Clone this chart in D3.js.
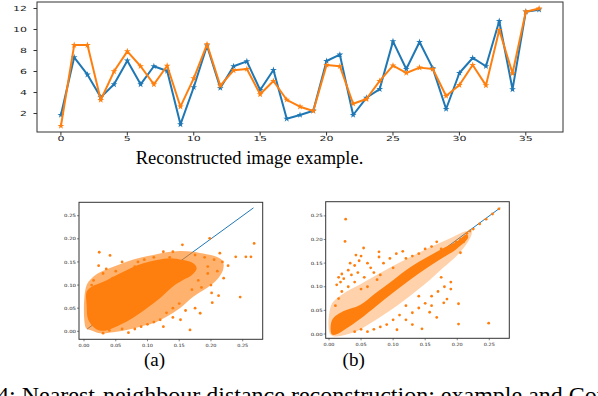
<!DOCTYPE html>
<html>
<head>
<meta charset="utf-8">
<script src="https://cdn.jsdelivr.net/npm/d3@7"></script>
<style>
  body { margin: 0; background: #fff; }
  svg { display: block; }
</style>
</head>
<body>
<svg id="fig"></svg>
<script>
// ---- top chart: one reconstructed example, 37 steps
const steps = d3.range(37);
const original = [1.86, 7.35, 5.7, 3.54, 4.78, 7.03, 4.78, 6.5, 6.05, 0.97, 4.5, 8.46, 4.43, 6.5, 6.97, 4.24, 6.14, 1.5, 1.86, 2.27,
                  7.0, 7.6, 1.86, 3.5, 4.33, 8.87, 6.24, 8.81, 6.3, 2.43, 5.86, 7.29, 6.5, 10.81, 4.3, 11.7, 11.89];
const reconstructed = [0.81, 8.52, 8.52, 3.29, 6.02, 7.92, 6.5, 4.78, 6.55, 2.65, 5.35, 8.59, 4.65, 6.11, 6.24, 3.83, 5.1, 3.31, 2.65, 2.24,
                       6.62, 6.5, 2.93, 3.38, 5.1, 6.56, 5.86, 6.37, 6.24, 3.67, 4.71, 6.62, 4.68, 9.95, 5.83, 11.7, 12.0];
const topXTicks = [0, 5, 10, 15, 20, 25, 30, 35];
const topYTicks = [2, 4, 6, 8, 10, 12];

// ---- scatter panels: true vs reconstructed nn distance
const distTicks = [0.00, 0.05, 0.10, 0.15, 0.20, 0.25];
const diagonal = [0.005, 0.267];

// (a) dense core outline, sparser halo outline, and single points outside
const coreA = [[0.0042, 0.0857], [0.0121, 0.0965], [0.0304, 0.107], [0.0515, 0.122], [0.0725, 0.136], [0.0934, 0.147],
  [0.1145, 0.154], [0.1355, 0.158], [0.156, 0.154], [0.172, 0.147], [0.1775, 0.136], [0.170, 0.122], [0.156, 0.111],
  [0.141, 0.098], [0.120, 0.072], [0.099, 0.050], [0.078, 0.030], [0.057, 0.014], [0.035, 0.002],
  [0.020, 0.004], [0.0068, 0.0244], [0.0042, 0.0569]];
const haloA = [[0.0032, 0.0965], [0.0032, 0.0065], [0.0095, 0.0028], [0.0252, -0.0043], [0.0462, -0.0022], [0.0672, 0.0028],
  [0.0882, 0.010], [0.109, 0.0173], [0.130, 0.0316], [0.151, 0.0497], [0.172, 0.0748], [0.193, 0.093], [0.209, 0.111],
  [0.219, 0.1326], [0.219, 0.1505], [0.209, 0.161], [0.193, 0.1665], [0.172, 0.172], [0.151, 0.1737], [0.130, 0.171],
  [0.109, 0.165], [0.0882, 0.159], [0.0672, 0.1505], [0.0462, 0.1397], [0.0252, 0.1276], [0.0121, 0.1146]];
const pointsA = [[0.024, 0.171], [0.041, 0.164], [0.268, 0.190], [0.198, 0.201], [0.239, 0.161], [0.255, 0.161], [0.263, 0.161],
  [0.246, 0.074], [0.201, 0.083], [0.212, 0.077], [0.202, 0.062], [0.183, 0.039], [0.167, 0.003], [0.155, 0.187],
  [0.023, 0.142], [0.125, 0.010], [0.152, 0.025], [0.214, 0.169], [0.227, 0.142], [0.218, 0.150], [0.205, 0.155],
  [0.190, 0.160], [0.175, 0.165], [0.140, 0.172], [0.125, 0.172], [0.110, 0.160], [0.095, 0.155], [0.060, 0.150],
  [0.035, 0.135], [0.030, 0.125], [0.015, 0.110], [0.012, 0.100], [0.008, 0.080], [0.070, -0.003], [0.060, 0.005],
  [0.030, -0.004], [0.040, 0.002], [0.100, 0.015], [0.110, 0.020], [0.140, 0.030], [0.160, 0.045], [0.175, 0.050],
  [0.130, 0.040], [0.180, 0.110], [0.195, 0.125], [0.210, 0.130], [0.220, 0.115], [0.200, 0.100], [0.185, 0.095],
  [0.170, 0.090], [0.195, 0.140], [0.165, 0.145], [0.150, 0.150], [0.135, 0.160], [0.085, 0.150], [0.080, 0.140],
  [0.050, 0.130], [0.045, 0.115], [0.150, 0.060], [0.140, 0.050], [0.120, 0.025], [0.090, 0.010], [0.080, 0.005]];

// (b)
const coreB = [[0.0042, -0.0007], [0.005, 0.030], [0.022, 0.048], [0.0484, 0.0615], [0.0744, 0.0884], [0.1003, 0.1144],
  [0.126, 0.1405], [0.152, 0.1617], [0.178, 0.1816], [0.199, 0.1956], [0.215, 0.211], [0.217, 0.204], [0.199, 0.180],
  [0.178, 0.1617], [0.152, 0.139], [0.126, 0.1144], [0.1003, 0.088], [0.0744, 0.060], [0.0484, 0.0318],
  [0.0276, 0.012], [0.012, -0.0007]];
const haloB = [[0.0031, -0.002], [0.0031, 0.060], [0.012, 0.075], [0.0276, 0.090], [0.0484, 0.105], [0.0744, 0.125],
  [0.1056, 0.148], [0.137, 0.170], [0.168, 0.190], [0.194, 0.206], [0.215, 0.218], [0.2226, 0.2155], [0.217, 0.1956],
  [0.199, 0.165], [0.178, 0.140], [0.1576, 0.115], [0.137, 0.092], [0.116, 0.070], [0.090, 0.045], [0.064, 0.022],
  [0.038, 0.003]];
const pointsB = [[0.026, 0.243], [0.025, 0.196], [0.054, 0.182], [0.078, 0.174], [0.078, 0.163], [0.050, 0.165], [0.047, 0.155],
  [0.060, 0.150], [0.040, 0.145], [0.030, 0.135], [0.020, 0.127], [0.015, 0.120], [0.035, 0.125], [0.045, 0.130],
  [0.065, 0.140], [0.085, 0.150], [0.095, 0.160], [0.105, 0.170], [0.115, 0.175], [0.120, 0.160], [0.130, 0.165],
  [0.140, 0.170], [0.150, 0.180], [0.160, 0.185], [0.168, 0.195], [0.175, 0.180], [0.190, 0.185], [0.205, 0.172],
  [0.210, 0.195], [0.012, 0.104], [0.023, 0.117], [0.033, 0.150], [0.042, 0.167], [0.018, 0.110], [0.020, 0.090],
  [0.015, 0.075], [0.010, 0.060], [0.030, 0.100], [0.040, 0.110], [0.055, 0.120], [0.070, 0.130], [0.080, 0.125],
  [0.100, 0.140], [0.075, 0.115], [0.060, 0.100], [0.050, 0.095],
  [0.249, 0.023], [0.202, 0.021], [0.202, 0.064], [0.184, 0.074], [0.179, 0.066], [0.168, 0.035], [0.157, 0.046],
  [0.145, 0.011], [0.106, 0.009], [0.130, 0.020], [0.120, 0.030], [0.110, 0.040], [0.090, 0.020], [0.080, 0.015],
  [0.070, 0.010], [0.060, 0.005], [0.100, 0.030], [0.130, 0.045], [0.140, 0.055], [0.150, 0.065], [0.160, 0.080],
  [0.170, 0.090], [0.180, 0.100], [0.190, 0.110], [0.160, 0.060], [0.140, 0.080], [0.120, 0.060], [0.050, 0.010],
  [0.040, 0.005], [0.190, 0.095], [0.175, 0.120],
  [0.215, 0.213], [0.225, 0.222], [0.235, 0.233], [0.245, 0.243], [0.255, 0.254], [0.265, 0.265], [0.220, 0.218],
  [0.205, 0.200], [0.198, 0.195]];

const blue = '#1f77b4';
const orange = '#ff7f0e';
const W = 598, H = 396;

const svg = d3.select('#fig').attr('width', W).attr('height', H);
svg.append('rect').attr('width', W).attr('height', H).attr('fill', '#fff');

// ================= top line chart =================
const x = d3.scaleLinear().domain([-1.8, 37.8]).range([37, 563]);
const y = d3.scaleLinear().domain([0.24, 12.62]).range([132, 2]);

const topG = svg.append('g');

const line = d3.line().x((d, i) => x(steps[i])).y(d => y(d));
[[original, blue], [reconstructed, orange]].forEach(([vals, col]) => {
  topG.append('path')
    .attr('d', line(vals))
    .attr('fill', 'none')
    .attr('stroke', col)
    .attr('stroke-width', 2)
    .attr('stroke-linejoin', 'round');
  topG.append('g').selectAll('path')
    .data(vals)
    .enter().append('path')
      .attr('transform', (d, i) => `translate(${x(steps[i])},${y(d)})`)
      .attr('d', d3.symbol(d3.symbolStar).size(14))
      .attr('fill', col);
});

topG.append('rect')
  .attr('x', 37).attr('y', 2).attr('width', 526).attr('height', 130)
  .attr('fill', 'none').attr('stroke', '#333').attr('stroke-width', 1);

//ticks drawn by hand so the labels can be stretched like the scaled figure
topG.append('g').selectAll('line')
  .data(topYTicks)
  .enter().append('line')
    .attr('x1', 33.5).attr('x2', 37)
    .attr('y1', d => y(d)).attr('y2', d => y(d))
    .attr('stroke', '#333');
topG.append('g').selectAll('text')
  .data(topYTicks)
  .enter().append('text')
    .attr('x', 27).attr('y', d => y(d) + 2.5)
    .attr('text-anchor', 'end')
    .attr('textLength', d => String(d).length * 7)
    .attr('lengthAdjust', 'spacingAndGlyphs')
    .style('font-family', 'DejaVu Sans').style('font-size', '7px').attr('fill', '#222')
    .text(d => d);

topG.append('g').selectAll('line')
  .data(topXTicks)
  .enter().append('line')
    .attr('x1', d => x(d)).attr('x2', d => x(d))
    .attr('y1', 132).attr('y2', 135.5)
    .attr('stroke', '#333');
topG.append('g').selectAll('text')
  .data(topXTicks)
  .enter().append('text')
    .attr('x', d => x(d)).attr('y', 141)
    .attr('text-anchor', 'middle')
    .attr('textLength', d => String(d).length * 7)
    .attr('lengthAdjust', 'spacingAndGlyphs')
    .style('font-family', 'DejaVu Sans').style('font-size', '7px').attr('fill', '#222')
    .text(d => d);

svg.append('text')
  .attr('x', 249.5).attr('y', 164)
  .attr('text-anchor', 'middle')
  .style('font-family', 'Liberation Serif').style('font-size', '18.5px')
  .text('Reconstructed image example.');

// ================= scatter panels =================
function scatterPanel(box, xDom, yDom, core, halo, pts, haloOpacity, label, labelX) {
  const sx = d3.scaleLinear().domain(xDom).range([box.left, box.right]);
  const sy = d3.scaleLinear().domain(yDom).range([box.bottom, box.top]);
  const g = svg.append('g');

  const clipId = 'clip' + label.replace(/\W/g, '');
  g.append('clipPath').attr('id', clipId)
    .append('rect')
      .attr('x', box.left).attr('y', box.top)
      .attr('width', box.right - box.left).attr('height', box.bottom - box.top);
  const plot = g.append('g').attr('clip-path', `url(#${clipId})`);

  plot.append('line')
    .attr('x1', sx(diagonal[0])).attr('y1', sy(diagonal[0]))
    .attr('x2', sx(diagonal[1])).attr('y2', sy(diagonal[1]))
    .attr('stroke', blue).attr('stroke-width', 1);

  const blob = d3.line().x(d => sx(d[0])).y(d => sy(d[1])).curve(d3.curveCatmullRomClosed);
  plot.append('path').attr('d', blob(halo)).attr('fill', orange).attr('opacity', haloOpacity);
  plot.append('path').attr('d', blob(core)).attr('fill', orange);

  plot.append('g').selectAll('circle')
    .data(pts)
    .enter().append('circle')
      .attr('cx', d => sx(d[0])).attr('cy', d => sy(d[1]))
      .attr('r', 1.4)
      .attr('fill', orange);

  g.append('rect')
    .attr('x', box.left).attr('y', box.top)
    .attr('width', box.right - box.left).attr('height', box.bottom - box.top)
    .attr('fill', 'none').attr('stroke', '#333').attr('stroke-width', 1);

  const fmt = d3.format('.2f');
  g.append('g').selectAll('line')
    .data(distTicks)
    .enter().append('line')
      .attr('x1', d => sx(d)).attr('x2', d => sx(d))
      .attr('y1', box.bottom).attr('y2', box.bottom + 2)
      .attr('stroke', '#333').attr('stroke-width', 0.6);
  g.append('g').selectAll('text')
    .data(distTicks)
    .enter().append('text')
      .attr('x', d => sx(d)).attr('y', box.bottom + 7.5)
      .attr('text-anchor', 'middle')
      .attr('textLength', 11)
      .attr('lengthAdjust', 'spacingAndGlyphs')
      .style('font-family', 'DejaVu Sans').style('font-size', '4.4px').attr('fill', '#222')
      .text(d => fmt(d));
  g.append('g').selectAll('line')
    .data(distTicks)
    .enter().append('line')
      .attr('x1', box.left - 2).attr('x2', box.left)
      .attr('y1', d => sy(d)).attr('y2', d => sy(d))
      .attr('stroke', '#333').attr('stroke-width', 0.6);
  g.append('g').selectAll('text')
    .data(distTicks)
    .enter().append('text')
      .attr('x', box.left - 3).attr('y', d => sy(d) + 1.6)
      .attr('text-anchor', 'end')
      .attr('textLength', 12)
      .attr('lengthAdjust', 'spacingAndGlyphs')
      .style('font-family', 'DejaVu Sans').style('font-size', '4.4px').attr('fill', '#222')
      .text(d => fmt(d));

  svg.append('text')
    .attr('x', labelX).attr('y', 366)
    .attr('text-anchor', 'middle')
    .style('font-family', 'Liberation Serif').style('font-size', '19px')
    .text(label);
}

scatterPanel({ left: 79, right: 262.7, top: 202.3, bottom: 339.3 }, [-0.0079, 0.2815], [-0.0173, 0.279],
  coreA, haloA, pointsA, 0.6, '(a)', 154.5);
scatterPanel({ left: 325.7, right: 509.3, top: 201.7, bottom: 338.3 }, [-0.00515, 0.2812], [-0.0091, 0.280],
  coreB, haloB, pointsB, 0.35, '(b)', 353.7);

// figure caption, cut off by the page edges as in the source
const cap = svg.append('text')
  .attr('y', 403)
  .style('font-family', 'Liberation Serif').style('font-size', '24px');
cap.append('tspan').text('Figure ');
cap.append('tspan').text('4: Nearest-neighbour distance reconstruction: example and Comparison');
const pre = cap.select('tspan').node().getComputedTextLength();
cap.attr('x', -3 - pre);
</script>
</body>
</html>
